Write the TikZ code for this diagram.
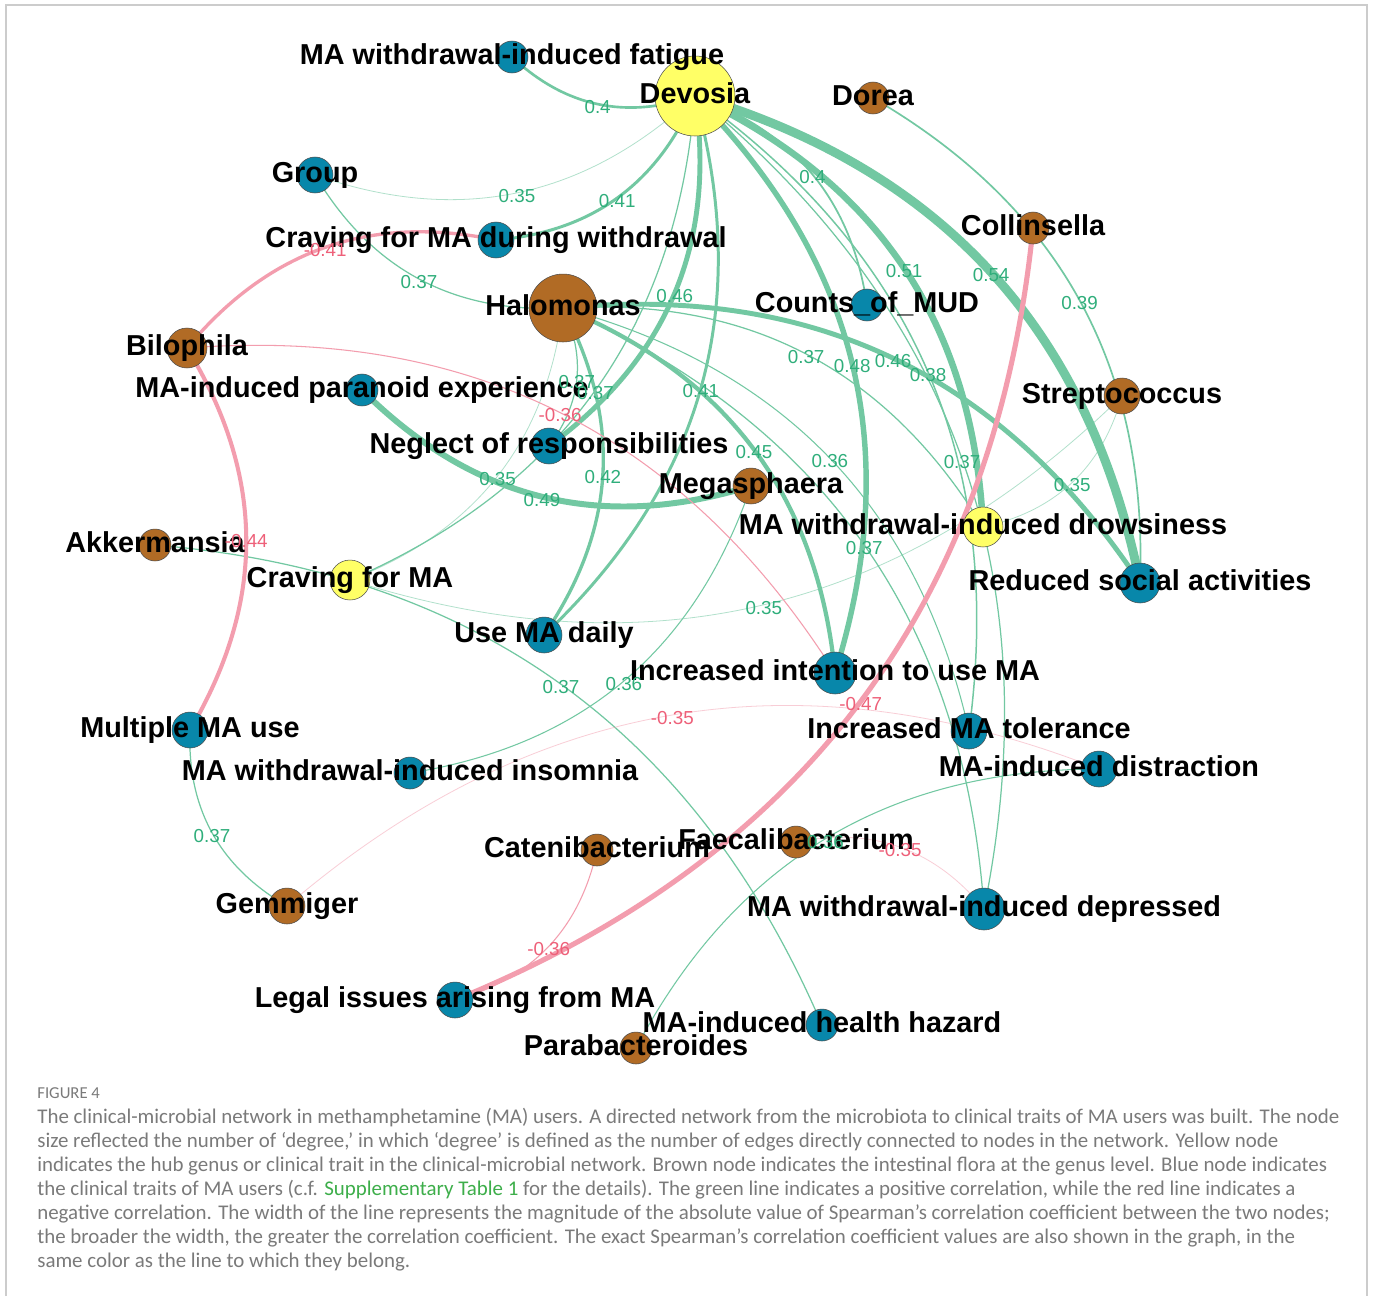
\documentclass[tikz,border=0pt]{standalone}
\usepackage{fontspec}
\setmainfont{Liberation Sans}
\newfontfamily\capfont{Carlito}
\definecolor{nblue}{HTML}{0887AA}
\definecolor{nbrown}{HTML}{B16B25}
\definecolor{nyellow}{HTML}{FFFF66}
\definecolor{egreen}{HTML}{72C8A2}
\definecolor{ered}{HTML}{F39DAE}
\definecolor{lgreen}{HTML}{2FAE7B}
\definecolor{lred}{HTML}{EE6079}
\definecolor{capgray}{HTML}{7A7A7A}
\definecolor{capgreen}{HTML}{3DAE4A}
\definecolor{framegray}{HTML}{CCCCCC}
\pgfdeclarelayer{bglayer}
\pgfdeclarelayer{edgelayer}
\pgfdeclarelayer{toplayer}
\pgfsetlayers{bglayer,edgelayer,main,toplayer}
\newcommand{\netedge}[5]{%
  \begin{pgfonlayer}{edgelayer}\draw[#3] (#1.center) to[bend left=31] (#2.center);\end{pgfonlayer}
  \begin{pgfonlayer}{toplayer}\path (#1.center) to[bend left=31] node[#4]{#5} (#2.center);\end{pgfonlayer}}
\tikzset{
  nd/.style={circle, draw=black!70, line width=0.3pt, inner sep=0pt, minimum size=#1},
  tb/.style={nd=#1, fill=nblue},
  tr/.style={nd=#1, fill=nbrown},
  ty/.style={nd=#1, fill=nyellow},
  lbl/.style={font=\fontsize{16.4}{18}\selectfont\bfseries, inner sep=0pt, text height=12pt, text depth=3.5pt},
  pg/.style={draw=egreen, line width=#1},
  pf/.style={draw=egreen, draw opacity=0.55, line width=0.45pt},
  ng/.style={draw=ered, line width=#1},
  nf/.style={draw=ered, draw opacity=0.5, line width=0.45pt},
  elab/.style={font=\fontsize{10.7}{12}\selectfont, inner sep=0pt, text height=7.7pt, text depth=2.2pt, yshift=-2.6pt},
  gl/.style={elab, text=lgreen},
  rl/.style={elab, text=lred},
  capl/.style={anchor=base west, inner sep=0pt, text=capgray, font=\capfont\fontsize{11.9}{13}\selectfont},
}
\begin{document}
\begin{tikzpicture}[x=0.02cm, y=-0.02cm]
\useasboundingbox (0,0) rectangle (1373,1296);
\begin{pgfonlayer}{bglayer}
\fill[white] (0,0) rectangle (1373,1296);
\draw[framegray, line width=0.6pt] (6,1296) -- (6,5) -- (1367,5) -- (1367,1296);
\end{pgfonlayer}

% ---- microbes
\node[ty=1.6cm] (D) at (695,96) {};
\node[tr=0.64cm] (Do) at (873,98) {};
\node[tr=0.64cm] (Co) at (1033,228) {};
\node[tr=1.36cm] (H) at (563,308) {};
\node[tr=0.8cm] (B) at (187,348) {};
\node[tr=0.72cm] (S) at (1122,396) {};
\node[tr=0.72cm] (Me) at (751,486) {};
\node[tr=0.64cm] (A) at (155,545) {};
\node[tr=0.64cm] (Ca) at (597,850) {};
\node[tr=0.64cm] (F) at (796,842) {};
\node[tr=0.72cm] (G) at (287,906) {};
\node[tr=0.64cm] (P) at (636,1048) {};
% ---- clinical traits
\node[tb=0.64cm] (fa) at (512,57) {};
\node[tb=0.72cm] (Gr) at (315,175) {};
\node[tb=0.72cm] (CW) at (496,240) {};
\node[tb=0.64cm] (CM) at (867,305) {};
\node[tb=0.64cm] (pa) at (362,390) {};
\node[tb=0.72cm] (Ne) at (549,446) {};
\node[ty=0.8cm] (dr) at (983,527) {};
\node[ty=0.8cm] (CF) at (350,580) {};
\node[tb=0.8cm] (RS) at (1140,583) {};
\node[tb=0.72cm] (U) at (544,635) {};
\node[tb=0.84cm] (II) at (835,673) {};
\node[tb=0.72cm] (MM) at (190,730) {};
\node[tb=0.72cm] (T) at (969,731) {};
\node[tb=0.64cm] (ins) at (410,773) {};
\node[tb=0.72cm] (di) at (1099,769) {};
\node[tb=0.84cm] (de) at (984,909) {};
\node[tb=0.72cm] (L) at (455,1000) {};
\node[tb=0.64cm] (hh) at (822,1025) {};

% ---- node labels
\node[lbl] (tD) at (D) {Devosia};
\node[lbl] (tDo) at (Do) {Dorea};
\node[lbl] (tCo) at (Co) {Collinsella};
\node[lbl] (tH) at (H) {Halomonas};
\node[lbl] (tB) at (B) {Bilophila};
\node[lbl] (tS) at (S) {Streptococcus};
\node[lbl] (tMe) at (Me) {Megasphaera};
\node[lbl] (tA) at (A) {Akkermansia};
\node[lbl] (tCa) at (Ca) {Catenibacterium};
\node[lbl] (tF) at (F) {Faecalibacterium};
\node[lbl] (tG) at (G) {Gemmiger};
\node[lbl] (tP) at (P) {Parabacteroides};
\node[lbl] (tfa) at (fa) {MA withdrawal-induced fatigue};
\node[lbl] (tGr) at (Gr) {Group};
\node[lbl] (tCW) at (CW) {Craving for MA during withdrawal};
\node[lbl] (tCM) at (CM) {Counts\_of\_MUD};
\node[lbl] (tpa) at (pa) {MA-induced paranoid experience};
\node[lbl] (tNe) at (Ne) {Neglect of responsibilities};
\node[lbl] (tdr) at (dr) {MA withdrawal-induced drowsiness};
\node[lbl] (tCF) at (CF) {Craving for MA};
\node[lbl] (tRS) at (RS) {Reduced social activities};
\node[lbl] (tU) at (U) {Use MA daily};
\node[lbl] (tII) at (II) {Increased intention to use MA};
\node[lbl] (tMM) at (MM) {Multiple MA use};
\node[lbl] (tT) at (T) {Increased MA tolerance};
\node[lbl] (tins) at (ins) {MA withdrawal-induced insomnia};
\node[lbl] (tdi) at (di) {MA-induced distraction};
\node[lbl] (tde) at (de) {MA withdrawal-induced depressed};
\node[lbl] (tL) at (L) {Legal issues arising from MA};
\node[lbl] (thh) at (hh) {MA-induced health hazard};

% ---- edges
\netedge{D}{fa}{pg=1.5pt}{gl}{0.4}
\netedge{D}{Gr}{pf}{gl}{0.35}
\netedge{D}{CW}{pg=1.7pt}{gl}{0.41}
\netedge{D}{CM}{pg=1.0pt}{gl}{0.4}
\netedge{D}{dr}{pg=3.7pt}{gl}{0.51}
\netedge{D}{RS}{pg=5.1pt}{gl}{0.54}
\netedge{D}{Ne}{pg=2.8pt}{gl}{0.46}
\netedge{D}{U}{pg=1.7pt}{gl}{0.41}
\netedge{D}{II}{pg=3.1pt}{gl}{0.48}
\netedge{D}{CF}{pg=0.7pt}{gl}{0.37}
\netedge{D}{T}{pg=0.85pt}{gl}{0.38}
\netedge{D}{de}{pg=0.7pt}{gl}{0.37}
\netedge{H}{dr}{pg=0.7pt}{gl}{0.37}
\netedge{H}{RS}{pg=2.8pt}{gl}{0.46}
\netedge{H}{II}{pg=2.4pt}{gl}{0.45}
\netedge{H}{T}{pg=0.6pt}{gl}{0.36}
\netedge{H}{U}{pg=1.9pt}{gl}{0.42}
\netedge{H}{Ne}{pg=0.7pt}{gl}{0.37}
\netedge{H}{CF}{pf}{gl}{0.35}
\netedge{H}{Gr}{pg=0.7pt}{gl}{0.37}
\netedge{H}{de}{pg=0.7pt}{gl}{0.37}
\netedge{Me}{pa}{pg=3.4pt}{gl}{0.49}
\netedge{Me}{ins}{pg=0.6pt}{gl}{0.36}
\netedge{S}{dr}{pf}{gl}{0.35}
\netedge{S}{CF}{pf}{gl}{0.35}
\netedge{Do}{RS}{pg=0.96pt}{gl}{0.39}
\netedge{A}{hh}{pg=0.7pt}{gl}{0.37}
\netedge{G}{MM}{pg=0.7pt}{gl}{0.37}
\netedge{P}{di}{pg=0.6pt}{gl}{0.36}
\netedge{Co}{L}{ng=2.9pt}{rl}{-0.47}
\netedge{B}{II}{ng=0.6pt}{rl}{-0.36}
\netedge{B}{CW}{ng=1.9pt}{rl}{-0.41}
\netedge{B}{MM}{ng=2.3pt}{rl}{-0.44}
\netedge{G}{di}{nf}{rl}{-0.35}
\netedge{F}{de}{nf}{rl}{-0.35}
\netedge{Ca}{L}{ng=0.6pt}{rl}{-0.36}

% ---- caption
\node[capl, font=\capfont\fontsize{9.5}{11}\selectfont] (cap0) at (37,1098) {FIGURE 4};
\node[capl] (cap1) at (37,1123) {The clinical-microbial network in methamphetamine (MA) users. A directed network from the microbiota to clinical traits of MA users was built. The node};
\node[capl] (cap2) at (37,1147) {size reflected the number of ‘degree,’ in which ‘degree’ is defined as the number of edges directly connected to nodes in the network. Yellow node};
\node[capl] (cap3) at (37,1171) {indicates the hub genus or clinical trait in the clinical-microbial network. Brown node indicates the intestinal flora at the genus level. Blue node indicates};
\node[capl] (cap4) at (37,1195) {the clinical traits of MA users (c.f. \textcolor{capgreen}{Supplementary Table 1} for the details). The green line indicates a positive correlation, while the red line indicates a};
\node[capl] (cap5) at (37,1219) {negative correlation. The width of the line represents the magnitude of the absolute value of Spearman’s correlation coefficient between the two nodes;};
\node[capl] (cap6) at (37,1243) {the broader the width, the greater the correlation coefficient. The exact Spearman’s correlation coefficient values are also shown in the graph, in the};
\node[capl] (cap7) at (37,1267) {same color as the line to which they belong.};
\end{tikzpicture}
\end{document}
